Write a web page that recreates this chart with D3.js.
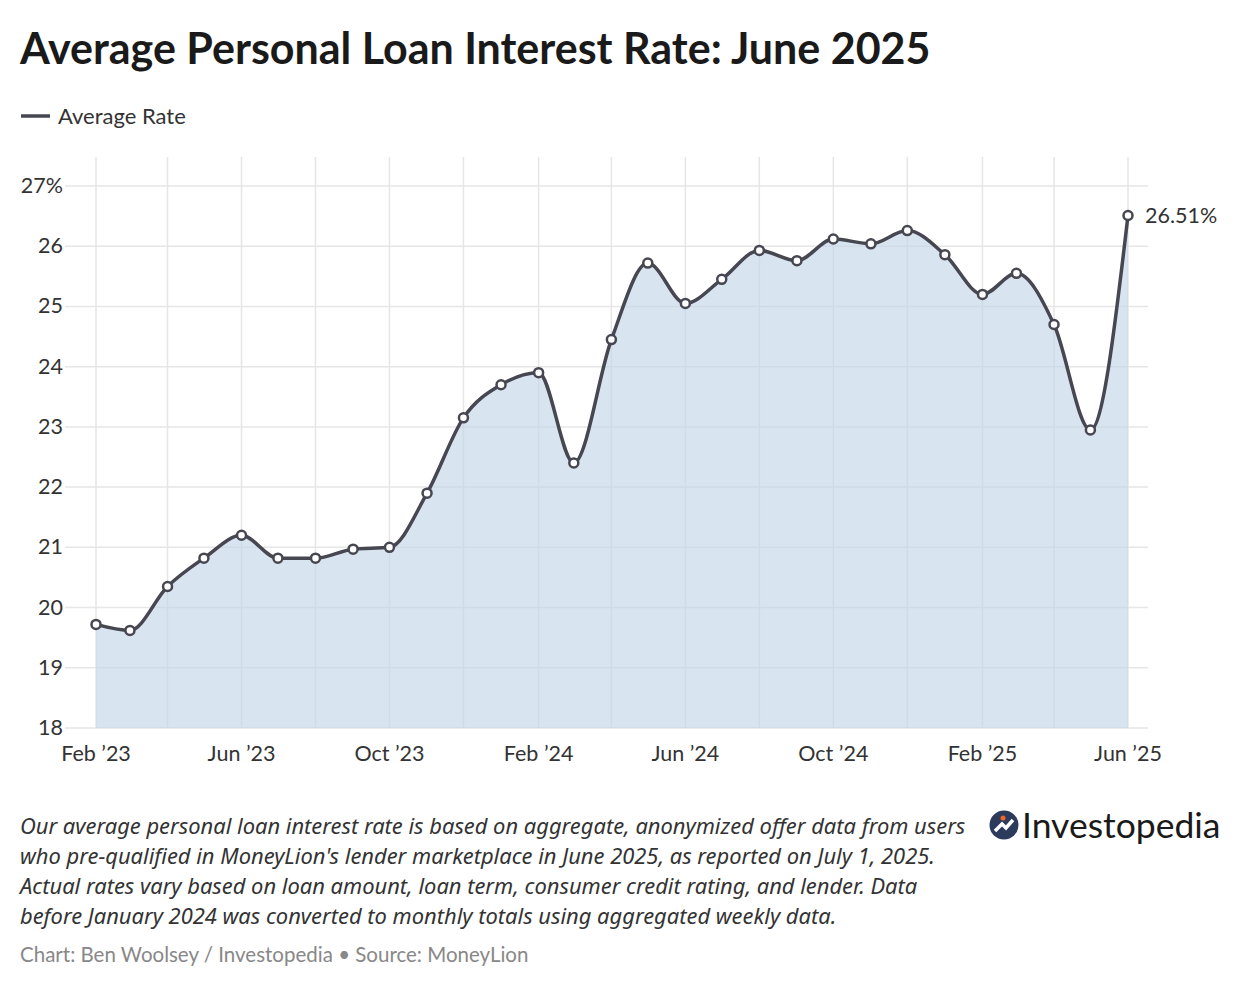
<!DOCTYPE html>
<html>
<head>
<meta charset="utf-8">
<script src="https://cdn.jsdelivr.net/npm/d3@7"></script>
<style>
  body { margin: 0; background: #fff; }
  svg text { font-family: "Source Sans Pro", "Lato", "Noto Sans", sans-serif; }
  svg text.note { font-family: "Noto Sans", sans-serif; }
</style>
</head>
<body>
<svg id="chart" width="1240" height="988"></svg>
<script>
// months Feb 2023 .. Jun 2025
var months = ["2023-02","2023-03","2023-04","2023-05","2023-06","2023-07","2023-08","2023-09","2023-10","2023-11","2023-12",
  "2024-01","2024-02","2024-03","2024-04","2024-05","2024-06","2024-07","2024-08","2024-09","2024-10","2024-11","2024-12",
  "2025-01","2025-02","2025-03","2025-04","2025-05","2025-06"];
var rates = [19.72,19.62,20.35,20.82,21.2,20.82,20.82,20.97,21.0,21.9,23.15,23.7,23.9,22.4,24.45,25.72,25.05,25.45,25.93,25.76,26.12,26.04,26.26,25.86,25.2,25.55,24.7,22.95,26.51];
var xTickLabels = ["Feb \u201923","Jun \u201923","Oct \u201923","Feb \u201924","Jun \u201924","Oct \u201924","Feb \u201925","Jun \u201925"];
var yTicks = [18,19,20,21,22,23,24,25,26,27];

var parse = d3.timeParse("%Y-%m");
var data = months.map(function(m, i){ return {date: parse(m), value: rates[i]}; });

var svg = d3.select("#chart");

var x = d3.scaleTime()
    .domain([data[0].date, data[data.length - 1].date])
    .range([96, 1128]);
var y = d3.scaleLinear().domain([18, 27]).range([728, 186]);

// title + legend
svg.append("text").attr("x", 20).attr("y", 64)
    .attr("font-size", 43).attr("font-weight", 700).attr("fill", "#1a1a1a")
    .text("Average Personal Loan Interest Rate: June 2025");
svg.append("line").attr("x1", 21).attr("x2", 50).attr("y1", 116).attr("y2", 116)
    .attr("stroke", "#474752").attr("stroke-width", 3.5);
svg.append("text").attr("x", 58).attr("y", 124)
    .attr("font-size", 22).attr("fill", "#333")
    .text("Average Rate");

// grid
var vTicks = data.filter(function(d, i){ return i % 2 === 0; }).map(function(d){ return d.date; });
svg.append("g").selectAll("line").data(vTicks).enter().append("line")
    .attr("x1", function(d){ return x(d); }).attr("x2", function(d){ return x(d); })
    .attr("y1", 157).attr("y2", 728)
    .attr("stroke", "#e6e6e6").attr("stroke-width", 1.5);
svg.append("g").selectAll("line").data(yTicks).enter().append("line")
    .attr("x1", 65).attr("x2", 1148)
    .attr("y1", function(d){ return y(d); }).attr("y2", function(d){ return y(d); })
    .attr("stroke", "#e6e6e6").attr("stroke-width", 1.5);

// area + line
var curve = d3.curveMonotoneX;
svg.append("path").datum(data)
    .attr("d", d3.area().curve(curve).x(function(d){ return x(d.date); }).y0(y(18)).y1(function(d){ return y(d.value); }))
    .attr("fill", "#c4d5e9").attr("fill-opacity", 0.65);
svg.append("path").datum(data)
    .attr("d", d3.line().curve(curve).x(function(d){ return x(d.date); }).y(function(d){ return y(d.value); }))
    .attr("fill", "none").attr("stroke", "#474752").attr("stroke-width", 3.5);
svg.append("g").selectAll("circle").data(data).enter().append("circle")
    .attr("cx", function(d){ return x(d.date); }).attr("cy", function(d){ return y(d.value); })
    .attr("r", 4.5).attr("fill", "#fff").attr("stroke", "#474752").attr("stroke-width", 2.5);

// y labels
svg.append("g").selectAll("text").data(yTicks).enter().append("text")
    .attr("x", 63).attr("y", function(d){ return y(d) + 7; })
    .attr("text-anchor", "end").attr("font-size", 21.5).attr("fill", "#333")
    .text(function(d){ return d === 27 ? "27%" : d; });

// x labels
var xLabelDates = data.filter(function(d, i){ return i % 4 === 0; }).map(function(d){ return d.date; });
svg.append("g").selectAll("text").data(xLabelDates).enter().append("text")
    .attr("x", function(d){ return x(d); }).attr("y", 761)
    .attr("text-anchor", "middle").attr("font-size", 21.5).attr("fill", "#333")
    .text(function(d, i){ return xTickLabels[i]; });

// end value label
var last = data[data.length - 1];
svg.append("text").attr("x", x(last.date) + 17).attr("y", y(last.value) + 7)
    .attr("font-size", 21.5).attr("fill", "#333")
    .text(d3.format(".2f")(last.value) + "%");

// footnote
var notes = ["Our average personal loan interest rate is based on aggregate, anonymized offer data from users",
  "who pre-qualified in MoneyLion's lender marketplace in June 2025, as reported on July 1, 2025.",
  "Actual rates vary based on loan amount, loan term, consumer credit rating, and lender. Data",
  "before January 2024 was converted to monthly totals using aggregated weekly data."];
svg.append("g").selectAll("text").data(notes).enter().append("text")
    .attr("class", "note")
    .attr("x", 20).attr("y", function(d, i){ return 834 + i * 30; })
    .attr("font-size", 21.9).attr("font-style", "italic").attr("fill", "#333")
    .text(function(d){ return d; });
svg.append("text").attr("x", 20).attr("y", 962)
    .attr("font-size", 20.5).attr("fill", "#888")
    .text("Chart: Ben Woolsey / Investopedia \u2022 Source: MoneyLion");

// logo
var logo = svg.append("g").attr("transform", "translate(1004,825)");
logo.append("circle").attr("r", 14.5).attr("fill", "#2c3a5c");
logo.append("path").attr("d", "M-9,6 L-2,-1 L2,3 L9,-5")
    .attr("fill", "none").attr("stroke", "#fff").attr("stroke-width", 3.5);
logo.append("circle").attr("cx", -1).attr("cy", -7).attr("r", 2.5).attr("fill", "#f26522");
svg.append("text").attr("x", 1022).attr("y", 838)
    .attr("font-size", 35.5).attr("fill", "#1a1a1a")
    .text("Investopedia");
</script>
</body>
</html>
